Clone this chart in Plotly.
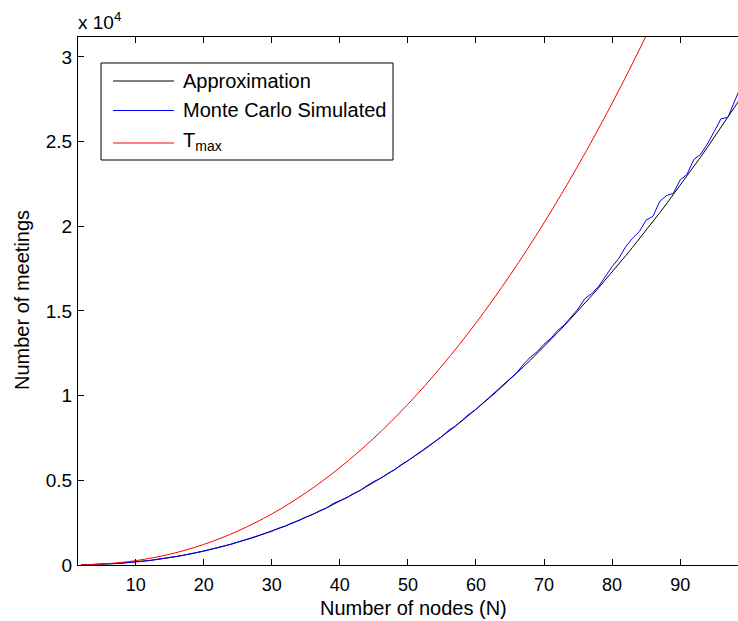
import plotly.graph_objects as go

# ---- data ----
nodes = list(range(2, 100))
approximation = [
    5, 13, 24, 39, 58, 81, 109, 141, 178, 220,
    266, 318, 374, 435, 501, 573, 650, 732, 819, 912,
    1010, 1114, 1223, 1339, 1459, 1585, 1718, 1855, 1999, 2149,
    2304, 2465, 2633, 2806, 2986, 3171, 3363, 3560, 3764, 3974,
    4191, 4413, 4642, 4878, 5119, 5367, 5622, 5883, 6150, 6424,
    6704, 6991, 7285, 7585, 7892, 8205, 8526, 8852, 9186, 9526,
    9874, 10227, 10586, 10956, 11330, 11712, 12100, 12495, 12897, 13306,
    13722, 14144, 14574, 15011, 15455, 15906, 16364, 16829, 17296, 17775,
    18261, 18755, 19256, 19763, 20279, 20802, 21330, 21868, 22412, 22963,
    23522, 24088, 24661, 25243, 25831, 26427, 27030, 27640,
]
monte_carlo = [
    4, 14, 23, 41, 57, 84, 107, 146, 175, 226,
    263, 325, 370, 442, 497, 581, 646, 741, 814, 924,
    1006, 1127, 1218, 1352, 1455, 1601, 1712, 1874, 1992, 2170,
    2298, 2488, 2625, 2834, 2978, 3199, 3357, 3625, 3790, 3968,
    4220, 4405, 4690, 4930, 5115, 5400, 5615, 5920, 6160, 6440,
    6760, 6995, 7320, 7590, 7960, 8215, 8560, 8910, 9195, 9560,
    9890, 10270, 10600, 11000, 11360, 11860, 12280, 12600, 13040, 13380,
    13850, 14190, 14690, 15120, 15730, 16020, 16440, 17030, 17620, 18110,
    18800, 19290, 19686, 20363, 20589, 21472, 21820, 21948, 22742, 23063,
    23937, 24253, 24861, 25593, 26351, 26427, 27430, 28340,
]
tmax_nodes = [2, 5, 10, 15, 20, 25, 30, 35, 40, 45, 50, 55, 60, 65, 70, 75, 80, 85, 90]
tmax = [7, 54, 256, 636, 1213, 2003, 3015, 4262, 5752, 7494, 9495,
        11756, 14293, 17109, 20205, 23590, 27265, 31247, 35520]

x_ticks = [10, 20, 30, 40, 50, 60, 70, 80, 90]
y_ticks = [0, 5000, 10000, 15000, 20000, 25000, 30000]
y_tick_labels = ["0", "0.5", "1", "1.5", "2", "2.5", "3"]

legend_names = ["Approximation", "Monte Carlo Simulated", "T<sub>max</sub>"]
colors = ["#000000", "#0000ff", "#ff0000"]

FONT = "Liberation Sans, Arial, Helvetica, sans-serif"
W, H = 738, 621
L, R, T, B = 78, 0, 37, 56
PW, PH = W - L - R, H - T - B


def px(xp):
    return (xp - L) / PW


def py(yp):
    return (H - B - yp) / PH


fig = go.Figure()
fig.add_trace(go.Scatter(x=nodes, y=approximation, mode="lines", name=legend_names[0],
                         line=dict(color=colors[0], width=1), showlegend=False))
fig.add_trace(go.Scatter(x=nodes, y=monte_carlo, mode="lines", name=legend_names[1],
                         line=dict(color=colors[1], width=1), showlegend=False))
fig.add_trace(go.Scatter(x=tmax_nodes, y=tmax, mode="lines", name=legend_names[2],
                         line=dict(color=colors[2], width=1, shape="spline"), showlegend=False))

shapes = []
annotations = []
# legend box
shapes.append(dict(type="rect", xref="paper", yref="paper",
                   x0=px(101), x1=px(393), y0=py(160), y1=py(63),
                   line=dict(color="black", width=1), fillcolor="white", layer="above"))
rows = [81, 110.5, 143]
text_rows = [81, 110.5, 141]
for i, (name, col) in enumerate(zip(legend_names, colors)):
    shapes.append(dict(type="line", xref="paper", yref="paper",
                       x0=px(113), x1=px(174), y0=py(rows[i]), y1=py(rows[i]),
                       line=dict(color=col, width=1), layer="above"))
    annotations.append(dict(text=name, xref="paper", yref="paper", x=px(181), y=py(text_rows[i]),
                            xanchor="left", yanchor="middle", showarrow=False,
                            font=dict(family=FONT, size=20, color="black")))

# axis titles and exponent
annotations.append(dict(text="Number of nodes (N)", xref="paper", yref="paper",
                        x=px(414), y=py(608), xanchor="center", yanchor="middle",
                        showarrow=False, font=dict(family=FONT, size=20, color="black")))
annotations.append(dict(text="Number of meetings", xref="paper", yref="paper",
                        x=px(22), y=py(300), xanchor="center", yanchor="middle", textangle=-90,
                        showarrow=False, font=dict(family=FONT, size=20, color="black")))
annotations.append(dict(text="x 10<sup>4</sup>", xref="paper", yref="paper",
                        x=px(76), y=py(35), xanchor="left", yanchor="bottom",
                        showarrow=False, font=dict(family=FONT, size=19, color="black")))

fig.update_layout(
    width=W, height=H,
    margin=dict(l=L, r=R, t=T, b=B, pad=0),
    paper_bgcolor="white", plot_bgcolor="white",
    font=dict(family=FONT, size=18, color="black"),
    shapes=shapes, annotations=annotations,
    showlegend=False,
)
fig.update_xaxes(range=[1.53, 98.5], tickvals=x_ticks, ticks="inside", ticklen=6,
                 tickcolor="black", showline=True, linecolor="black", linewidth=1,
                 mirror="ticks", showgrid=False, zeroline=False, ticklabelstandoff=3,
                 tickfont=dict(family=FONT, size=18, color="black"))
fig.update_yaxes(range=[0, 31180], tickvals=y_ticks, ticktext=y_tick_labels,
                 ticks="inside", ticklen=6, tickcolor="black", showline=True,
                 linecolor="black", linewidth=1, mirror=False, showgrid=False,
                 zeroline=False, ticklabelstandoff=1,
                 tickfont=dict(family=FONT, size=19, color="black"))

fig.write_html("out.html")
